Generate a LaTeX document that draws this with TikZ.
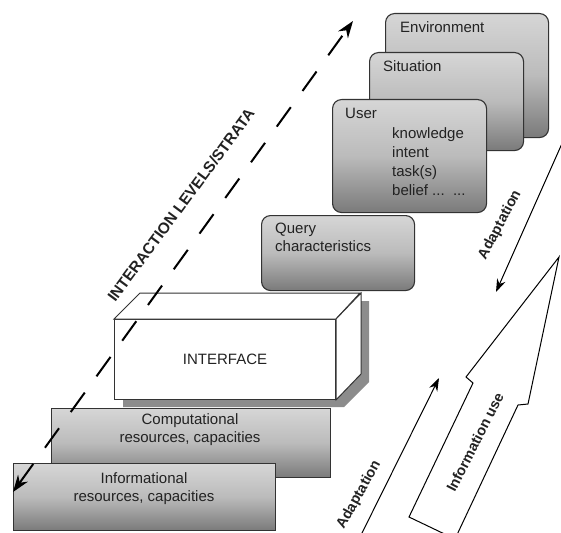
\documentclass[tikz,border=0pt]{standalone}
\usepackage{fontspec}
\setmainfont{Liberation Sans}
\usetikzlibrary{arrows.meta}
\definecolor{txt}{HTML}{222222}
\definecolor{edge}{HTML}{333333}
\definecolor{shadegray}{HTML}{8C8C8C}
\definecolor{boxtop}{HTML}{D6D6D6}
\definecolor{boxmid}{HTML}{BBBBBB}
\definecolor{boxbot}{HTML}{7A7A7A}
\begin{document}
\begin{tikzpicture}[x=1pt,y=-1pt,
  lay/.style={draw=edge, line width=1.1pt, top color=boxtop, bottom color=boxbot, middle color=boxmid, inner sep=0pt, anchor=north west},
  roundlay/.style={lay, rounded corners=9pt},
  lbl/.style={font=\fontsize{15}{18}\selectfont, text=txt, inner sep=0pt},
  blbl/.style={font=\bfseries\fontsize{14.5}{17}\selectfont, text=txt, inner sep=0pt},
  thinarrow/.style={draw=black, line width=1pt, -{Stealth[length=13pt,width=9pt]}},
  dasharrow/.style={draw=black, line width=2pt, dash pattern=on 24pt off 20pt,
     {Stealth[length=17pt,width=12pt]}-{Stealth[length=17pt,width=12pt]}},
  prism/.style={draw=edge, line width=1pt, fill=white},
  bigarrow/.style={draw=black, line width=1pt, fill=white, line join=miter}
]
\clip (0,0) rectangle (561,532);
\useasboundingbox (0,0) rectangle (561,532);

% upper strata
\node[roundlay, minimum width=163pt, minimum height=124pt] (env) at (385,13) {};
\node[lbl, anchor=north west] (envtxt) at (400,21.5) {Environment};
\node[roundlay, minimum width=154pt, minimum height=98pt] (sit) at (369,52) {};
\node[lbl, anchor=north west] (sittxt) at (383,60) {Situation};
\node[roundlay, minimum width=154pt, minimum height=113pt] (user) at (332,99) {};
\node[lbl, anchor=north west] (usertxt) at (345,107.5) {User};
\node[lbl, anchor=north west, align=left, font=\fontsize{15}{19}\selectfont] (userlist) at (392,127) {knowledge\\intent\\task(s)\\belief ...\ \ ...};
\node[roundlay, minimum width=153pt, minimum height=75pt] (query) at (261,215) {};
\node[lbl, anchor=north west, align=left] (querytxt) at (275,222.5) {Query\\characteristics};

% interface prism
\fill[shadegray] (123,327) -- (149,301) -- (369,301) -- (369,382) -- (344,407) -- (123,407) -- cycle;
\node[prism, lbl, draw=edge, minimum width=221pt, minimum height=80pt, anchor=north west] (iface) at (114,319) {INTERFACE};
\draw[prism] (iface.north west) -- ++(26,-26) -- ++(220,0) -- (iface.north east) -- cycle;
\draw[prism] (iface.north east) -- ++(25,-26) -- ++(0,81) -- (iface.south east) -- cycle;

% lower strata
\node[lay, minimum width=279pt, minimum height=69pt] (comp) at (51,408) {};
\node[lbl, anchor=north, align=center] (comptxt) at (190,413) {Computational\\resources, capacities};
\node[lay, minimum width=262pt, minimum height=67pt] (info) at (13,463) {};
\node[lbl, anchor=north, align=center] (infotxt) at (144,472) {Informational\\resources, capacities};

% big hollow arrow
\draw[bigarrow] (559,257) -- (466,377) -- (473,383) -- (409,517) -- (455,539) -- (518,405) -- (528,404) -- cycle;
\node[blbl, rotate=63] (infouse) at (475,442) {Information use};

% adaptation arrows
\coordinate (a1s) at (564,139);
\coordinate (a1e) at (496,292);
\draw[thinarrow] (a1s) -- (a1e);
\node[blbl, rotate=62] (adapt1) at (500,225) {Adaptation};
\coordinate (a2s) at (361,535);
\coordinate (a2e) at (439,378);
\draw[thinarrow] (a2s) -- (a2e);
\node[blbl, rotate=61] (adapt2) at (359,495) {Adaptation};

% dashed strata arrow
\coordinate (dA) at (13,492);
\coordinate (dB) at (353,21);
\draw[dasharrow] (dA) -- (dB);
\node[blbl, rotate=53.5, font=\bfseries\fontsize{15.5}{18}\selectfont] (strata) at (181,205) {INTERACTION LEVELS/STRATA};
\end{tikzpicture}
\end{document}
